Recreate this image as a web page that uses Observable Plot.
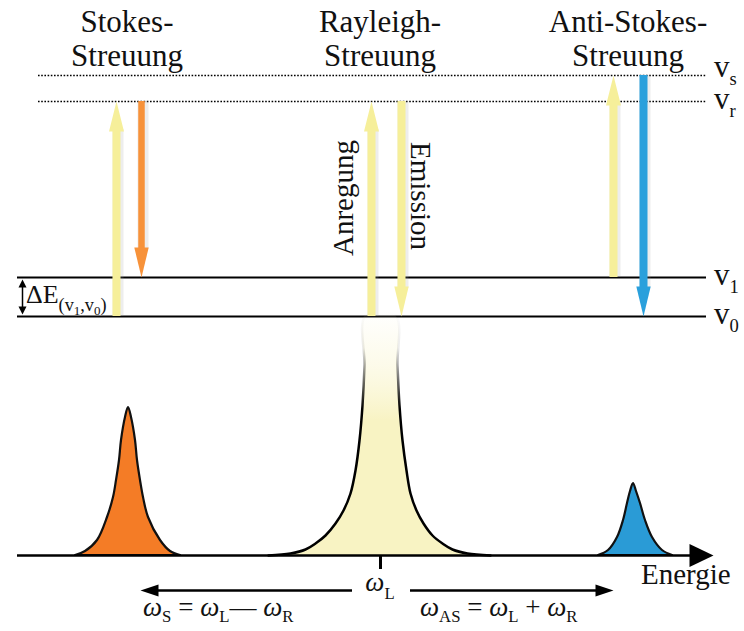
<!DOCTYPE html>
<html><head><meta charset="utf-8">
<script src="https://cdn.jsdelivr.net/npm/d3@7"></script>
<script src="https://cdn.jsdelivr.net/npm/@observablehq/plot@0.6"></script>
<style>html,body{margin:0;padding:0;background:#fff}</style>
</head><body><div id="chart"></div>
<script>
// ---------- data (diagram units) ----------
const processNames  = ["Stokes-", "Rayleigh-", "Anti-Stokes-"];
const processEnergy = [127, 380, 628];          // position on the energy axis
const levelKeys  = ["s", "r", "1", "0"];
const levelY     = [75, 101, 277, 316];
const levelKind  = ["virtual", "virtual", "real", "real"];

// transitions: x position, start level, end level, kind
const arrowX    = [116, 141, 371, 401, 613, 643];
const arrowFrom = ["0", "r", "0", "r", "1", "s"];
const arrowTo   = ["r", "1", "r", "0", "s", "0"];
const arrowKind = ["Anregung", "Stokes", "Anregung", "Anregung", "Anregung", "Anti-Stokes"];

// spectrum peaks: [energy, intensity]
const stokesPeak = [[75,0],[85,4],[97,15],[107,38],[113,58],[116,75],[119,95],[121,115],[125,138],[128,148],
  [131,138],[135,115],[137,95],[140,75],[143,58],[148,38],[160,15],[170,4],[180,0]];
const rayleighPeak = [[268,0],[290,2],[305,6],[315,12],[325,20],[335,32],[343,45],[350,62],[355,85],[359,115],
  [362,150],[364,190],[365,240],[395,240],[397,190],[399,150],[402,115],[406,85],[410,62],[416,45],
  [423,32],[432,20],[442,12],[452,6],[467,2],[490,0]];
const antiStokesPeak = [[598,0],[608,5],[617,18],[623,35],[627,52],[630,64],[633,72],[636,64],[640,52],
  [645,35],[652,18],[662,5],[672,0]];

const omegaL = 380;
const axisLabel = "Energie";
const formulaS  = "ω_{S} = ω_{L}— ω_{R}";
const formulaAS = "ω_{AS} = ω_{L} + ω_{R}";
const deltaLabel = "ΔE_{(v_{1},v_{0})}";

// ---------- layout / style ----------
const W = 744, H = 631, BASE = 555;
const SERIF = "'Liberation Serif', 'Times New Roman', serif";
const yellow = "#f6ef9a", orange = "#f7923a", blue = "#2aa0dc";
const lv = Object.fromEntries(levelKeys.map((k, i) => [k, levelY[i]]));

const head = (ratio, dir) => ({
  draw(ctx, size) {
    const L = Math.sqrt(size / Math.PI), w = L * ratio;
    const pts = {up: [[w, L], [-w, L]], down: [[w, -L], [-w, -L]], left: [[L, w], [L, -w]], right: [[-L, w], [-L, -w]]}[dir];
    ctx.moveTo(0, 0); ctx.lineTo(...pts[0]); ctx.lineTo(...pts[1]); ctx.closePath();
  }
});

const HEAD = 30;
const arrows = arrowX.map((x, i) => {
  const y1 = lv[arrowFrom[i]], y2 = lv[arrowTo[i]], up = y2 < y1;
  return {x, y1, tip: y2, shaftEnd: up ? y2 + HEAD - 2 : y2 - HEAD + 2, up, kind: arrowKind[i]};
});

function parse(s, level = 0, out = []) {
  let i = 0, buf = "";
  const flush = () => { if (buf) { out.push({t: buf, sub: level}); buf = ""; } };
  while (i < s.length) {
    if (s[i] === "_" && s[i + 1] === "{") {
      flush();
      let depth = 1, j = i + 2;
      while (depth) { if (s[j] === "{") depth++; else if (s[j] === "}") depth--; j++; }
      parse(s.slice(i + 2, j - 1), level + 1, out);
      i = j;
    } else { buf += s[i]; i++; }
  }
  flush();
  return out;
}

function richText(items) {
  return (index, scales) => {
    const g = d3.create("svg:g").style("font-family", SERIF).attr("fill", "#111");
    for (const it of items) {
      const fs = it.size;
      const sizes = [fs, fs * (it.sub ?? 0.62), fs * (it.subsub ?? 0.45)];
      const offs = [0, fs * (it.dy1 ?? 0.28), fs * (it.dy2 ?? 0.45)];
      const t = g.append("text")
        .attr("transform", `translate(${scales.x(it.x)},${scales.y(it.y)})` + (it.rotate ? ` rotate(${it.rotate})` : ""))
        .attr("text-anchor", it.anchor ?? "start")
        .style("font-family", SERIF)
        .style("font-size", fs + "px")
        .style("white-space", "pre");
      let cur = 0;
      for (const p of parse(it.text)) {
        const pieces = p.t.split(/(ω)/).filter(d => d);
        pieces.forEach((piece, k) => {
          const ts = t.append("tspan").style("font-size", sizes[p.sub] + "px").style("font-family", SERIF).text(piece);
          if (k === 0 && p.sub !== cur) ts.attr("dy", offs[p.sub] - offs[cur]);
          if (piece === "ω") ts.style("font-style", "italic");
        });
        cur = p.sub;
      }
    }
    return g.node();
  };
}

const defs = () => {
  const d = d3.create("svg:defs");
  const f = d.append("linearGradient").attr("id", "rayFill").attr("x1", 0).attr("y1", 0).attr("x2", 0).attr("y2", 1);
  f.append("stop").attr("offset", 0).attr("stop-color", "#fbf8dc").attr("stop-opacity", 0);
  f.append("stop").attr("offset", 0.22).attr("stop-color", "#fbf8dc").attr("stop-opacity", 0.6);
  f.append("stop").attr("offset", 0.45).attr("stop-color", "#f8f3c3").attr("stop-opacity", 1);
  f.append("stop").attr("offset", 1).attr("stop-color", "#f8f3c3").attr("stop-opacity", 1);
  const s = d.append("linearGradient").attr("id", "rayStroke").attr("x1", 0).attr("y1", 0).attr("x2", 0).attr("y2", 1);
  s.append("stop").attr("offset", 0).attr("stop-color", "#000").attr("stop-opacity", 0);
  s.append("stop").attr("offset", 0.15).attr("stop-color", "#000").attr("stop-opacity", 0.08);
  s.append("stop").attr("offset", 0.4).attr("stop-color", "#000").attr("stop-opacity", 1);
  s.append("stop").attr("offset", 1).attr("stop-color", "#000").attr("stop-opacity", 1);
  return d.node();
};

const pk = (pts) => pts.map(([x, h]) => ({x, h}));

const textItems = [
  ...processNames.flatMap((name, k) => [
    {x: processEnergy[k], y: 32, text: name, anchor: "middle", size: 31},
    {x: processEnergy[k], y: 66, text: "Streuung", anchor: "middle", size: 31}
  ]),
  ...levelKeys.map((k, i) => ({x: 714, y: levelY[i] + 8 - (k === "s" ? 6 : 0), text: `v_{${k}}`, size: 31, sub: 0.6, dy1: 0.27})),
  {x: 353, y: 198, rotate: -90, anchor: "middle", text: "Anregung", size: 29},
  {x: 411, y: 196, rotate: 90, anchor: "middle", text: "Emission", size: 29},
  {x: 26, y: 303, text: deltaLabel, size: 26, sub: 0.7, subsub: 0.5, dy1: 0.3, dy2: 0.45},
  {x: omegaL, y: 591, anchor: "middle", text: "ω_{L}", size: 27},
  {x: 641, y: 584, text: axisLabel, size: 29},
  {x: 143, y: 616, text: formulaS, size: 27, dy1: 0.22},
  {x: 420, y: 616, text: formulaAS, size: 27, dy1: 0.22}
];

const dotted = levelKeys.filter((k, i) => levelKind[i] === "virtual");
const solid  = levelKeys.filter((k, i) => levelKind[i] === "real");

const chart = Plot.plot({
  width: W, height: H, margin: 0,
  x: {domain: [0, W], range: [0, W], axis: null},
  y: {domain: [0, H], range: [0, H], axis: null},
  color: {domain: ["Anregung", "Stokes", "Anti-Stokes"], range: [yellow, orange, blue]},
  style: {background: "#fff", fontFamily: SERIF},
  marks: [
    defs,
    // energy levels
    Plot.ruleY(dotted, {y: k => lv[k], x1: 38, x2: 706, stroke: "#000", strokeWidth: 1.6, strokeDasharray: "1.6,1.6"}),
    Plot.ruleY(solid, {y: k => lv[k], x1: 17, x2: 706, stroke: "#000", strokeWidth: 2}),
    // transition arrows: soft shadow, shaft, head
    Plot.ruleX(arrows, {x: d => d.x + 1.5, y1: "y1", y2: "shaftEnd", stroke: "#999", strokeOpacity: 0.18, strokeWidth: 11}),
    Plot.ruleX(arrows, {x: "x", y1: "y1", y2: "shaftEnd", stroke: "kind", strokeWidth: d => d.kind === "Stokes" ? 6.5 : 8}),
    Plot.dot(arrows.filter(d => d.up), {x: "x", y: "tip", r: HEAD, symbol: head(0.25, "up"), fill: "kind", stroke: "none"}),
    Plot.dot(arrows.filter(d => !d.up), {x: "x", y: "tip", r: HEAD, symbol: head(0.24, "down"), fill: "kind", stroke: "none"}),
    // ΔE bracket
    Plot.ruleX([0], {x: 22, y1: 284, y2: 309, stroke: "#000", strokeWidth: 1.5}),
    Plot.dot([0], {x: 22, y: 279, r: 8, symbol: head(0.5, "up"), fill: "#000", stroke: "none"}),
    Plot.dot([0], {x: 22, y: 314, r: 8, symbol: head(0.5, "down"), fill: "#000", stroke: "none"}),
    // spectrum
    Plot.areaY(pk(rayleighPeak), {x: "x", y1: BASE, y2: d => BASE - d.h, fill: "url(#rayFill)", curve: "catmull-rom"}),
    Plot.line(pk(rayleighPeak), {x: "x", y: d => BASE - d.h, stroke: "url(#rayStroke)", strokeWidth: 2.5, curve: "catmull-rom"}),
    Plot.areaY(pk(stokesPeak), {x: "x", y1: BASE, y2: d => BASE - d.h, fill: "#f47c26", stroke: "#111", strokeWidth: 2.2, curve: "catmull-rom"}),
    Plot.areaY(pk(antiStokesPeak), {x: "x", y1: BASE, y2: d => BASE - d.h, fill: "#2a9bd6", stroke: "#111", strokeWidth: 2.2, curve: "catmull-rom"}),
    // energy axis
    Plot.ruleY([BASE], {x1: 17, x2: 692, stroke: "#000", strokeWidth: 2.5}),
    Plot.dot([BASE], {x: 713, y: d => d, r: 24, symbol: head(0.48, "right"), fill: "#000", stroke: "none"}),
    Plot.ruleX([omegaL], {x: d => d, y1: BASE, y2: 569, stroke: "#000", strokeWidth: 3}),
    // shift arrows
    Plot.ruleY([0], {y: 590, x1: 156, x2: 352, stroke: "#000", strokeWidth: 2.5}),
    Plot.ruleY([0], {y: 590, x1: 410, x2: 597, stroke: "#000", strokeWidth: 2.5}),
    Plot.dot([0], {x: 140, y: 590, r: 18, symbol: head(0.34, "left"), fill: "#000", stroke: "none"}),
    Plot.dot([0], {x: 613, y: 590, r: 18, symbol: head(0.34, "right"), fill: "#000", stroke: "none"}),
    // texts
    richText(textItems)
  ]
});
document.getElementById("chart").appendChild(chart);
</script>
</body></html>
